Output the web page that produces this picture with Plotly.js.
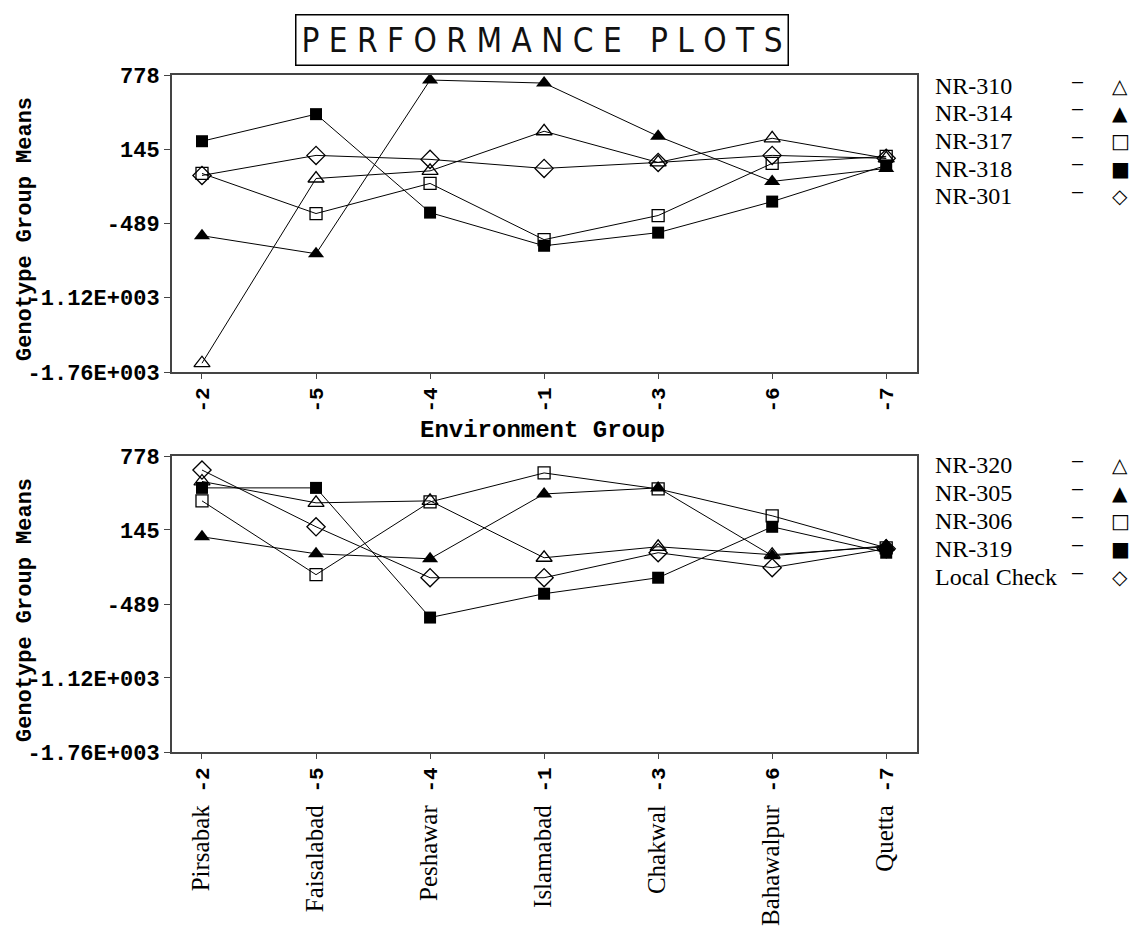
<!DOCTYPE html>
<html>
<head>
<meta charset="utf-8">
<script src="https://cdn.plot.ly/plotly-3.0.1.min.js"></script>
<style>html,body{margin:0;padding:0;background:#fff;}#chart{width:1132px;height:935px;}</style>
</head>
<body>
<div id="chart"></div>
<script>
// ---- data ----
const envCodes = ['-2', '-5', '-4', '-1', '-3', '-6', '-7'];
const envNames = ['Pirsabak', 'Faisalabad', 'Peshawar', 'Islamabad', 'Chakwal', 'Bahawalpur', 'Quetta'];

const yTickVals = [778, 145, -489, -1122, -1756];
const yTickText = ['778', '145', '-489', '-1.12E+003', '-1.76E+003'];

// top panel
const topNames = ['NR-310', 'NR-314', 'NR-317', 'NR-318', 'NR-301'];
const nr310 = [-1681, -105, -40, 298, 32, 238, 67];
const nr314 = [-593, -747, 735, 709, 255, -130, -19];
const nr317 = [-62, -404, -147, -627, -421, 24, 84];
const nr318 = [213, 444, -396, -679, -567, -302, 7];
const nr301 = [-79, 92, 58, -19, 32, 92, 67];

// bottom panel
const bottomNames = ['NR-320', 'NR-305', 'NR-306', 'NR-319', 'Local Check'];
const nr320 = [560, 377, 394, -93, 1, -67, 1];
const nr305 = [86, -59, -102, 453, 505, -76, 9];
const nr306 = [394, -238, 385, 633, 496, 266, -8];
const nr319 = [505, 505, -605, -401, -264, 172, -50];
const localCheck = [658, 172, -264, -264, -50, -178, -16];

const symbols = ['triangle-up-open', 'triangle-up', 'square-open', 'square', 'diamond-open'];
const legendGlyphs = ['\u25B3', '\u25B2', '\u25A1', '\u25A0', '\u25C7'];

// ---- build ----
const MONO = 'Liberation Mono, Courier New, monospace';
const SERIF = 'Liberation Serif, Times New Roman, serif';

// pixel geometry of the plotting area
const L = 172, R = 917, T = 75, B = 752;
const W = R - L, H = B - T;
const px = v => (v - L) / W;
const py = v => (B - v) / H;

function mk(y, name, i, xa, ya) {
  const open = symbols[i].indexOf('open') >= 0;
  return {
    x: envCodes, y: y, name: name, type: 'scatter', mode: 'lines+markers',
    xaxis: xa, yaxis: ya, showlegend: false,
    line: {color: '#000', width: 1},
    marker: {symbol: symbols[i], color: '#000', size: symbols[i].indexOf('square') >= 0 ? 12 : 14,
             line: {color: '#000', width: open ? 1.3 : 0}},
    cliponaxis: false
  };
}
const topSeries = [nr310, nr314, nr317, nr318, nr301];
const bottomSeries = [nr320, nr305, nr306, nr319, localCheck];
const traces = [];
topSeries.forEach((s, i) => traces.push(mk(s, topNames[i], i, 'x', 'y')));
bottomSeries.forEach((s, i) => traces.push(mk(s, bottomNames[i], i, 'x2', 'y2')));

const bottomTickText = envNames.map((n, i) =>
  '<span style="font-family:Liberation Serif;font-weight:normal;font-size:25px">' + n + '</span> ' + envCodes[i]);

const axisCommon = {
  showline: true, mirror: true, linecolor: '#444', linewidth: 2,
  showgrid: false, zeroline: false
};
const xCommon = Object.assign({}, axisCommon, {
  type: 'category', categoryorder: 'array', categoryarray: envCodes,
  range: [-0.263, 6.27], tickangle: -90, ticks: 'outside', ticklen: 5, tickcolor: '#444',
  tickfont: {family: MONO, size: 21, weight: 'bold', color: '#000'}
});
const yCommon = Object.assign({}, axisCommon, {
  range: [-1756, 778], tickmode: 'array', tickvals: yTickVals, ticktext: yTickText,
  ticks: 'outside', ticklen: 6, tickcolor: '#444',
  tickfont: {family: MONO, size: 22, weight: 'bold', color: '#000'}
});

const annotations = [];
// title
annotations.push({
  xref: 'paper', yref: 'paper', x: px(542), y: py(40), xanchor: 'center', yanchor: 'middle',
  text: 'P E R F O R M A N C E   P L O T S', showarrow: false,
  font: {family: 'DejaVu Sans Condensed, DejaVu Sans', size: 33, weight: 200, color: '#111'},
  bordercolor: '#000', borderwidth: 1.5, borderpad: 5, bgcolor: '#fff'
});
// axis titles
[229, 610].forEach(yy => annotations.push({
  xref: 'paper', yref: 'paper', x: px(25), y: py(yy), xanchor: 'center', yanchor: 'middle',
  text: 'Genotype Group Means', textangle: -90, showarrow: false,
  font: {family: MONO, size: 22, weight: 'bold', color: '#000'}
}));
annotations.push({
  xref: 'paper', yref: 'paper', x: px(542), y: py(431), xanchor: 'center', yanchor: 'middle',
  text: 'Environment Group', showarrow: false,
  font: {family: MONO, size: 24, weight: 'bold', color: '#000'}
});
// legends
function legend(names, startPx, step) {
  names.forEach((n, i) => {
    const yy = py(startPx + i * step);
    annotations.push({xref: 'paper', yref: 'paper', x: px(933), y: yy, xanchor: 'left', yanchor: 'middle',
      text: n, showarrow: false, font: {family: SERIF, size: 24, color: '#000'}});
    annotations.push({xref: 'paper', yref: 'paper', x: px(1077), y: yy + 0.006, xanchor: 'center', yanchor: 'middle',
      text: '<b>\u2014</b>', showarrow: false, font: {family: 'Liberation Sans', size: 11, color: '#000'}});
    annotations.push({xref: 'paper', yref: 'paper', x: px(1120), y: yy, xanchor: 'center', yanchor: 'middle',
      text: legendGlyphs[i], showarrow: false, font: {family: 'DejaVu Sans', size: 20, color: '#000'}});
  });
}
legend(topNames, 86, 27.5);
legend(bottomNames, 465, 28);

const layout = {
  width: 1132, height: 935,
  margin: {l: L, r: 1132 - R, t: T, b: 935 - B},
  paper_bgcolor: '#fff', plot_bgcolor: '#fff',
  showlegend: false,
  xaxis: Object.assign({}, xCommon, {anchor: 'y', domain: [0, 1]}),
  yaxis: Object.assign({}, yCommon, {anchor: 'x', domain: [py(372), 1]}),
  xaxis2: Object.assign({}, xCommon, {anchor: 'y2', domain: [0, 1], tickmode: 'array',
                                      tickvals: envCodes, ticktext: bottomTickText}),
  yaxis2: Object.assign({}, yCommon, {anchor: 'x2', domain: [0, py(456)]}),
  annotations: annotations
};

Plotly.newPlot('chart', traces, layout, {displayModeBar: false, staticPlot: true});
</script>
</body>
</html>
